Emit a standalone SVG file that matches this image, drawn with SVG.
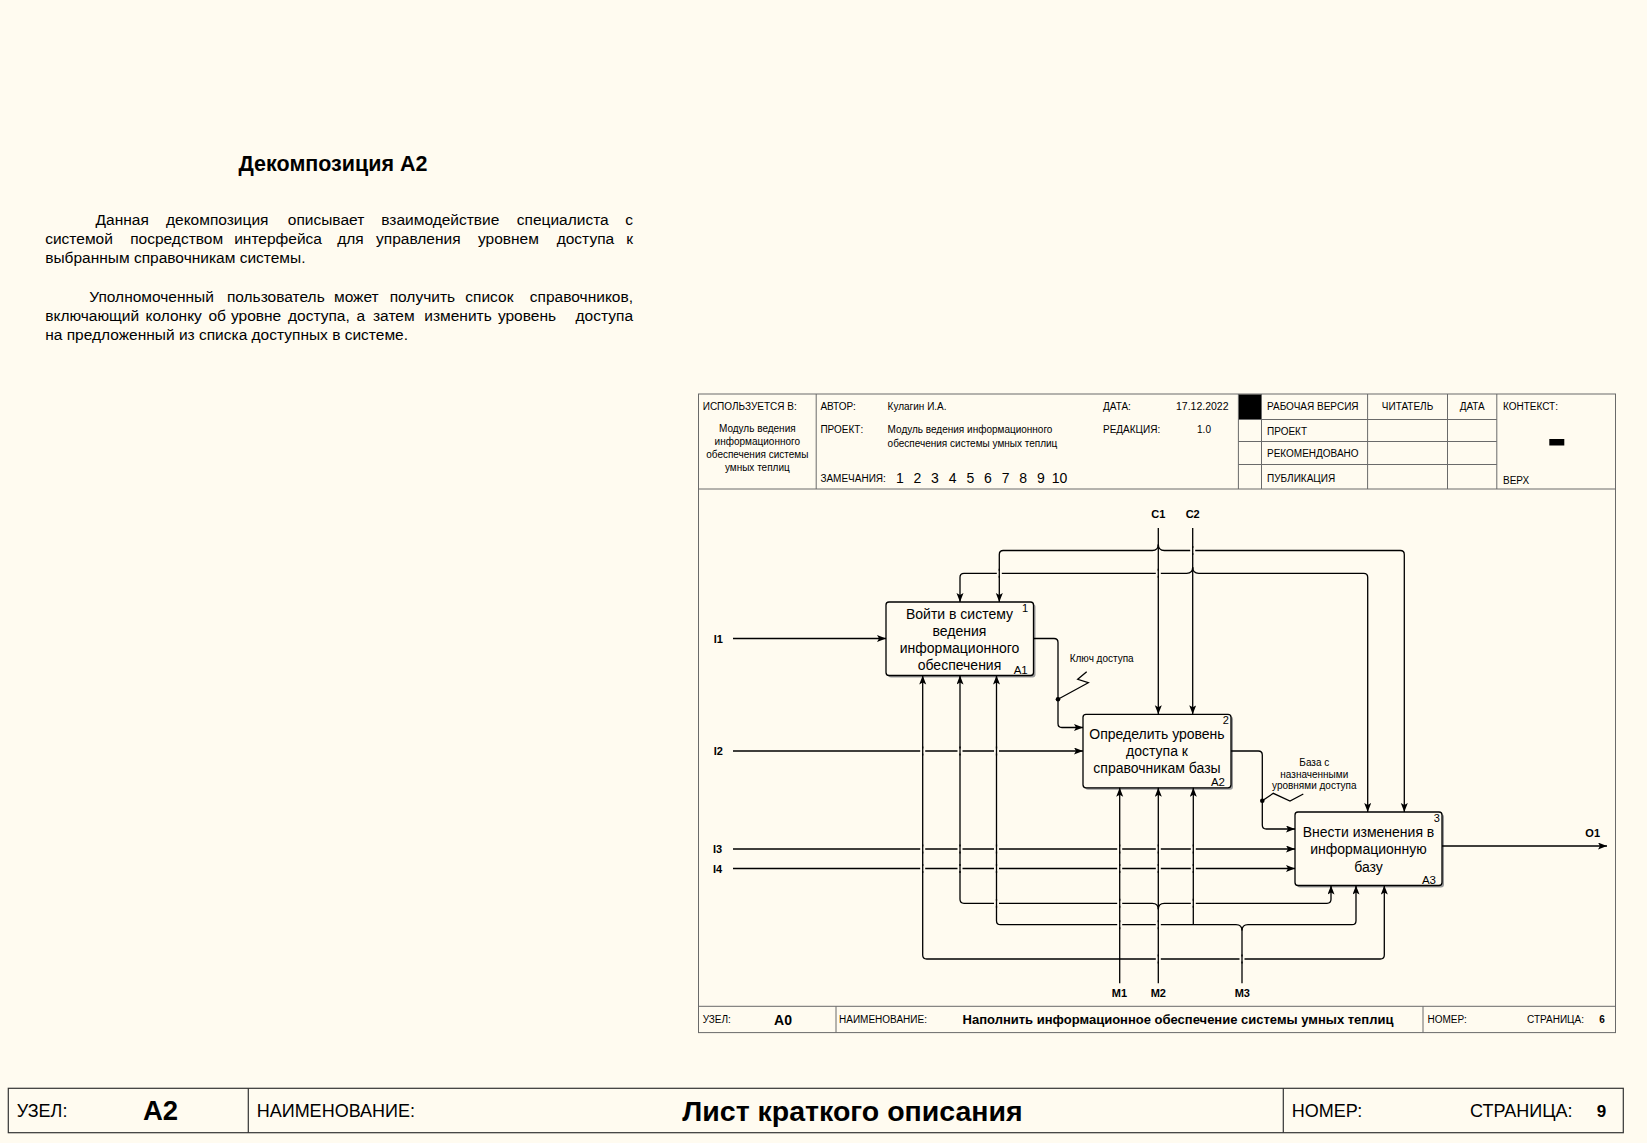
<svg xmlns="http://www.w3.org/2000/svg" xmlns:xlink="http://www.w3.org/1999/xlink" width="1647" height="1143" viewBox="0 0 1647 1143">
<style>
text{font-family:"Liberation Sans",Arial,sans-serif;fill:#000}
.para{font-size:15.5px}
.hdr{font-size:10px}
.box{fill:#FFFBF0;stroke:#000;stroke-width:1.3}
.shadow{fill:#9a9a9a}
.btxt{font-size:14px;text-anchor:middle}
.bnum{font-size:11px;text-anchor:middle}
.bid{font-size:11.5px;text-anchor:middle}
.lbl{font-size:11px;font-weight:bold;text-anchor:middle}
.note{font-size:10px;text-anchor:middle}
.arw{fill:none;stroke:#000;stroke-width:1.3;marker-end:url(#ah)}
.ln{fill:none;stroke:#000;stroke-width:1.3}
.frm{fill:none;stroke:#6a6a6a;stroke-width:1}
.pfrm{fill:none;stroke:#333;stroke-width:1.2}
.pg{font-size:18px}
</style>
<defs>
<marker id="ah" markerUnits="userSpaceOnUse" markerWidth="10" markerHeight="8" refX="9" refY="3.5" orient="auto">
<path d="M0,0 L9,3.5 L0,7 L2,3.5 z" fill="#000"/>
</marker>
<g id="gap"><rect x="-2.5" y="-2.5" width="5" height="5" fill="#FFFBF0"/><line x1="0" y1="-4.5" x2="0" y2="4.5" stroke="#000" stroke-width="1.3"/></g>
</defs>
<rect x="0" y="0" width="1647" height="1143" fill="#FFFBF0"/>

<!-- Description text -->
<g id="description">
<text x="333" y="170.5" font-size="21.5" font-weight="bold" text-anchor="middle">Декомпозиция A2</text>
<g class="para">
<text x="95.6" y="225">Данная</text>
<text x="166" y="225">декомпозиция</text>
<text x="287.8" y="225">описывает</text>
<text x="381.3" y="225">взаимодействие</text>
<text x="516.8" y="225">специалиста</text>
<text x="633" y="225" text-anchor="end">с</text>
<text x="45.2" y="244">системой</text>
<text x="130.2" y="244">посредством</text>
<text x="234.2" y="244">интерфейса</text>
<text x="337.2" y="244">для</text>
<text x="376" y="244">управления</text>
<text x="478" y="244">уровнем</text>
<text x="556.7" y="244">доступа</text>
<text x="633" y="244" text-anchor="end">к</text>
<text x="45.2" y="263">выбранным справочникам системы.</text>
<text x="89.3" y="301.5">Уполномоченный</text>
<text x="226.9" y="301.5">пользователь</text>
<text x="334" y="301.5">может</text>
<text x="389.7" y="301.5">получить</text>
<text x="465.3" y="301.5">список</text>
<text x="633" y="301.5" text-anchor="end">справочников,</text>
<text x="45.2" y="320.5">включающий</text>
<text x="145.5" y="320.5">колонку</text>
<text x="208.5" y="320.5">об</text>
<text x="231" y="320.5">уровне</text>
<text x="288" y="320.5">доступа,</text>
<text x="356.5" y="320.5">а</text>
<text x="373" y="320.5">затем</text>
<text x="424.3" y="320.5">изменить</text>
<text x="497.9" y="320.5">уровень</text>
<text x="633" y="320.5" text-anchor="end">доступа</text>
<text x="45.2" y="339.5">на предложенный из списка доступных в системе.</text>
</g>
</g>

<!-- IDEF0 frame -->
<g id="idef0-frame">
<rect class="frm" x="698.5" y="394" width="917" height="638.6"/>
<line class="frm" x1="698.5" y1="489" x2="1615.5" y2="489"/>
<line class="frm" x1="698.5" y1="1006.3" x2="1615.5" y2="1006.3"/>
<line class="frm" x1="816.2" y1="394" x2="816.2" y2="489"/>
<line class="frm" x1="1238.4" y1="394" x2="1238.4" y2="489"/>
<line class="frm" x1="1261.5" y1="394" x2="1261.5" y2="489"/>
<line class="frm" x1="1367.6" y1="394" x2="1367.6" y2="489"/>
<line class="frm" x1="1447.5" y1="394" x2="1447.5" y2="489"/>
<line class="frm" x1="1496.8" y1="394" x2="1496.8" y2="489"/>
<line class="frm" x1="1238.4" y1="419.5" x2="1496.8" y2="419.5"/>
<line class="frm" x1="1238.4" y1="441.5" x2="1496.8" y2="441.5"/>
<line class="frm" x1="1238.4" y1="464.5" x2="1496.8" y2="464.5"/>
<rect x="1238.9" y="394.5" width="22.1" height="24.5" fill="#000"/>
<line class="frm" x1="836" y1="1006.3" x2="836" y2="1032.6"/>
<line class="frm" x1="1423" y1="1006.3" x2="1423" y2="1032.6"/>
<g class="hdr">
<text x="702.7" y="409.5">ИСПОЛЬЗУЕТСЯ В:</text>
<text x="757.3" y="432" text-anchor="middle">Модуль ведения</text>
<text x="757.3" y="445" text-anchor="middle">информационного</text>
<text x="757.3" y="458" text-anchor="middle">обеспечения системы</text>
<text x="757.3" y="471" text-anchor="middle">умных теплиц</text>
<text x="820.4" y="409.5">АВТОР:</text>
<text x="887.6" y="409.5">Кулагин И.А.</text>
<text x="1103" y="409.5">ДАТА:</text>
<text x="1176" y="409.5" font-size="10.5">17.12.2022</text>
<text x="820.4" y="433">ПРОЕКТ:</text>
<text x="887.6" y="433">Модуль ведения информационного</text>
<text x="887.6" y="446.8">обеспечения системы умных теплиц</text>
<text x="1103" y="433">РЕДАКЦИЯ:</text>
<text x="1204" y="433" text-anchor="middle">1.0</text>
<text x="820.4" y="482">ЗАМЕЧАНИЯ:</text>
<g font-size="14" text-anchor="middle">
<text x="900" y="483">1</text>
<text x="917.5" y="483">2</text>
<text x="935" y="483">3</text>
<text x="952.7" y="483">4</text>
<text x="970.4" y="483">5</text>
<text x="988" y="483">6</text>
<text x="1005.6" y="483">7</text>
<text x="1023.2" y="483">8</text>
<text x="1040.8" y="483">9</text>
<text x="1059.5" y="483">10</text>
</g>
<text x="1267" y="410">РАБОЧАЯ ВЕРСИЯ</text>
<text x="1407.5" y="410" text-anchor="middle">ЧИТАТЕЛЬ</text>
<text x="1472.2" y="410" text-anchor="middle">ДАТА</text>
<text x="1267" y="434.5">ПРОЕКТ</text>
<text x="1267" y="457.3">РЕКОМЕНДОВАНО</text>
<text x="1267" y="481.5">ПУБЛИКАЦИЯ</text>
<text x="1503" y="409.5">КОНТЕКСТ:</text>
<text x="1503" y="483.5">ВЕРХ</text>
<text x="702.7" y="1023">УЗЕЛ:</text>
<text x="839" y="1023">НАИМЕНОВАНИЕ:</text>
<text x="1427.5" y="1023">НОМЕР:</text>
<text x="1527" y="1023">СТРАНИЦА:</text>
</g>
<rect x="1549.3" y="439" width="15" height="6.5" fill="#000"/>
<text x="783" y="1024.5" font-size="14" font-weight="bold" text-anchor="middle">A0</text>
<text x="1178" y="1024" font-size="13" font-weight="bold" text-anchor="middle">Наполнить информационное обеспечение системы умных теплиц</text>
<text x="1602" y="1022.5" font-size="10" font-weight="bold" text-anchor="middle">6</text>
</g>

<!-- Activity boxes -->
<g id="A1">
<rect class="shadow" x="888" y="604" width="147.5" height="73.5" rx="3"/>
<rect class="box" x="886" y="602" width="147.5" height="73.5" rx="3"/>
<text class="btxt" x="959.5" y="619.3">Войти в систему</text>
<text class="btxt" x="959.5" y="636.3">ведения</text>
<text class="btxt" x="959.5" y="653.3">информационного</text>
<text class="btxt" x="959.5" y="670">обеспечения</text>
<text class="bnum" x="1025" y="611.5">1</text>
<text class="bid" x="1020.7" y="673.5">A1</text>
</g>
<g id="A2">
<rect class="shadow" x="1085" y="716.3" width="148" height="73.5" rx="3"/>
<rect class="box" x="1083" y="714.3" width="148" height="73.5" rx="3"/>
<text class="btxt" x="1157" y="739.2">Определить уровень</text>
<text class="btxt" x="1157" y="756">доступа к</text>
<text class="btxt" x="1157" y="772.8">справочникам базы</text>
<text class="bnum" x="1225.7" y="724">2</text>
<text class="bid" x="1218" y="786">A2</text>
</g>
<g id="A3">
<rect class="shadow" x="1297" y="814" width="147" height="73.5" rx="3"/>
<rect class="box" x="1295" y="812" width="147" height="73.5" rx="3"/>
<text class="btxt" x="1368.5" y="837">Внести изменения в</text>
<text class="btxt" x="1368.5" y="853.7">информационную</text>
<text class="btxt" x="1368.5" y="871.6">базу</text>
<text class="bnum" x="1436.7" y="821.5">3</text>
<text class="bid" x="1429" y="884">A3</text>
</g>

<!-- Connectors -->
<g id="connectors">
<path class="arw" d="M733,638.5 H886"/>
<path class="arw" d="M733,751 H1083"/>
<path class="arw" d="M733,849 H1295"/>
<path class="arw" d="M733,868.5 H1295"/>
<path class="arw" d="M1033.5,638.5 H1054 Q1058,638.5 1058,642.5 V723.5 Q1058,727.5 1062,727.5 H1083"/>
<path class="arw" d="M1231,751 H1258.3 Q1262.3,751 1262.3,755 V825 Q1262.3,829 1266.3,829 H1295"/>
<path class="arw" d="M1442,846 H1607"/>
<path class="arw" d="M1158.3,528 V714.3"/>
<path class="arw" d="M1158.3,544.5 Q1158.3,550.5 1152.3,550.5 H1003.3 Q999.3,550.5 999.3,554.5 V602"/>
<path class="arw" d="M1158.3,544.5 Q1158.3,550.5 1164.3,550.5 H1400.3 Q1404.3,550.5 1404.3,554.5 V812"/>
<path class="arw" d="M1192.7,528 V714.3"/>
<path class="arw" d="M1192.7,567.3 Q1192.7,573.3 1186.7,573.3 H964 Q960,573.3 960,577.3 V602"/>
<path class="arw" d="M1192.7,567.3 Q1192.7,573.3 1198.7,573.3 H1363.7 Q1367.7,573.3 1367.7,577.3 V812"/>
<path class="arw" d="M1119.7,983.3 V787.8"/>
<path class="arw" d="M1158.3,983.3 V787.8"/>
<path class="arw" d="M1158.3,909.3 Q1158.3,903.3 1152.3,903.3 H964 Q960,903.3 960,899.3 V675.5"/>
<path class="arw" d="M1158.3,909.3 Q1158.3,903.3 1164.3,903.3 H1327 Q1331,903.3 1331,899.3 V885.5"/>
<path class="ln" d="M1242,983.3 V930.7"/>
<path class="arw" d="M1242,930.7 Q1242,924.7 1236,924.7 H1000.5 Q996.5,924.7 996.5,920.7 V675.5"/>
<path class="arw" d="M1242,930.7 Q1242,924.7 1248,924.7 H1352 Q1356,924.7 1356,920.7 V885.5"/>
<path class="arw" d="M1193.3,924.7 V787.8"/>
<path class="arw" d="M1119.7,959 H926.7 Q922.7,959 922.7,955 V675.5"/>
<path class="arw" d="M1119.7,959 H1380.3 Q1384.3,959 1384.3,955 V885.5"/>
<circle cx="1058" cy="699.3" r="2.3" fill="#000"/>
<path class="ln" d="M1058,699.3 L1088.3,682.7 L1077.7,679.3 L1086.7,671.7"/>
<circle cx="1262.3" cy="800.7" r="2.3" fill="#000"/>
<path class="ln" d="M1262.3,800.7 L1273.3,793.3 L1290,801 L1303.3,794"/>
<use xlink:href="#gap" x="922.7" y="751"/>
<use xlink:href="#gap" x="960" y="751"/>
<use xlink:href="#gap" x="996.5" y="751"/>
<use xlink:href="#gap" x="922.7" y="849"/>
<use xlink:href="#gap" x="960" y="849"/>
<use xlink:href="#gap" x="996.5" y="849"/>
<use xlink:href="#gap" x="1119.7" y="849"/>
<use xlink:href="#gap" x="1158.3" y="849"/>
<use xlink:href="#gap" x="1193.3" y="849"/>
<use xlink:href="#gap" x="922.7" y="868.5"/>
<use xlink:href="#gap" x="960" y="868.5"/>
<use xlink:href="#gap" x="996.5" y="868.5"/>
<use xlink:href="#gap" x="1119.7" y="868.5"/>
<use xlink:href="#gap" x="1158.3" y="868.5"/>
<use xlink:href="#gap" x="1193.3" y="868.5"/>
<use xlink:href="#gap" x="996.5" y="903.3"/>
<use xlink:href="#gap" x="1119.7" y="903.3"/>
<use xlink:href="#gap" x="1193.3" y="903.3"/>
<use xlink:href="#gap" x="1119.7" y="924.7"/>
<use xlink:href="#gap" x="1158.3" y="924.7"/>
<use xlink:href="#gap" x="1158.3" y="959"/>
<use xlink:href="#gap" x="1242" y="959"/>
<use xlink:href="#gap" x="1158.3" y="573.3"/>
<use xlink:href="#gap" x="999.3" y="573.3"/>
<use xlink:href="#gap" x="1192.7" y="550.5"/>
<text class="lbl" x="718.3" y="643">I1</text>
<text class="lbl" x="718.3" y="755">I2</text>
<text class="lbl" x="717.5" y="853">I3</text>
<text class="lbl" x="717.5" y="872.7">I4</text>
<text class="lbl" x="1158.3" y="518">C1</text>
<text class="lbl" x="1192.7" y="518">C2</text>
<text class="lbl" x="1592.7" y="837">O1</text>
<text class="lbl" x="1119.5" y="997">M1</text>
<text class="lbl" x="1158.3" y="997">M2</text>
<text class="lbl" x="1242.3" y="997">M3</text>
<text class="note" x="1101.7" y="661.5">Ключ доступа</text>
<text class="note" x="1314.3" y="765.8">База с</text>
<text class="note" x="1314.3" y="777.6">назначенными</text>
<text class="note" x="1314.3" y="789.3">уровнями доступа</text>
</g>

<!-- Page frame -->
<g id="page-frame">
<rect class="pfrm" x="8.3" y="1088.3" width="1615" height="44.4"/>
<line class="pfrm" x1="248.3" y1="1088.3" x2="248.3" y2="1132.7"/>
<line class="pfrm" x1="1283.3" y1="1088.3" x2="1283.3" y2="1132.7"/>
<text class="pg" x="16.7" y="1117">УЗЕЛ:</text>
<text x="160.5" y="1120" font-size="27.5" font-weight="bold" text-anchor="middle">A2</text>
<text class="pg" x="256.7" y="1117" font-size="17.5">НАИМЕНОВАНИЕ:</text>
<text x="852.5" y="1120.5" font-size="28.5" font-weight="bold" text-anchor="middle">Лист краткого описания</text>
<text class="pg" x="1291.7" y="1117">НОМЕР:</text>
<text class="pg" x="1470" y="1117">СТРАНИЦА:</text>
<text x="1601.5" y="1116.5" font-size="17" font-weight="bold" text-anchor="middle">9</text>
</g>
</svg>
